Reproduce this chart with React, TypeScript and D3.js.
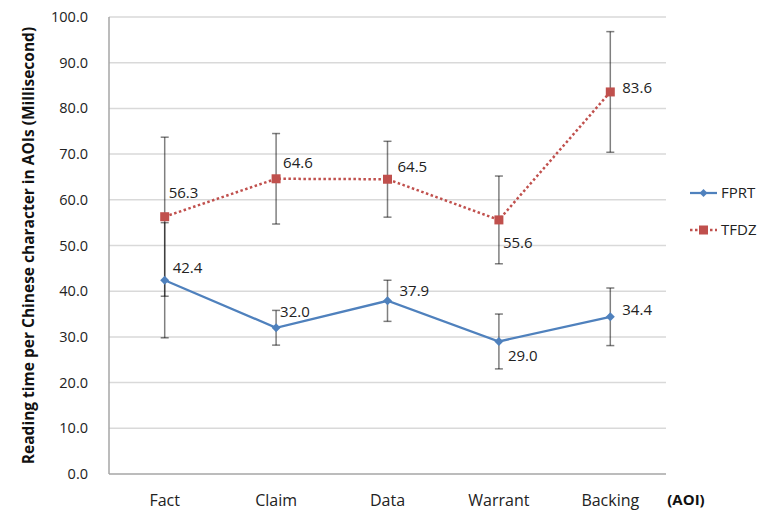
import React from "react";
import * as d3 from "d3";

const categories = ["Fact", "Claim", "Data", "Warrant", "Backing"];
const fprt = [42.4, 32.0, 37.9, 29.0, 34.4];
const fprtErr = [12.6, 3.8, 4.5, 6.0, 6.3];
const tfdz = [56.3, 64.6, 64.5, 55.6, 83.6];
const tfdzErr = [17.4, 9.9, 8.3, 9.6, 13.2];
const yTicks = [0, 10, 20, 30, 40, 50, 60, 70, 80, 90, 100];
const seriesNames = ["FPRT", "TFDZ"];

// label offsets (layout only)
const fprtLabelOff = [[8, -12], [4, -16], [12, -10], [9, 14], [12, -7]];
const tfdzLabelOff = [[4, -24], [7, -16], [10, -12], [4, 23], [12, -4]];

const W = 771;
const H = 511;
const margin = { left: 109, right: 105, top: 17, bottom: 37 };
const FONT = "'Open Sans', sans-serif";
const BLUE = "#4F81BD";
const RED = "#C0504D";

export default function App() {
  const x = d3
    .scaleBand()
    .domain(categories)
    .range([margin.left, W - margin.right])
    .padding(0);
  const y = d3.scaleLinear().domain([0, 100]).range([H - margin.bottom, margin.top]);
  const cx = (c: string) => (x(c) as number) + x.bandwidth() / 2;

  const line = d3
    .line<number>()
    .x((_, i) => cx(categories[i]))
    .y((d) => y(d));

  const errBars = (vals: number[], errs: number[], key: string) =>
    vals.map((v, i) => {
      const xc = cx(categories[i]);
      const y1 = y(v + errs[i]);
      const y2 = y(v - errs[i]);
      return (
        <g key={key + i} stroke="#000" strokeOpacity={0.5} strokeWidth={1.5}>
          <line x1={xc} x2={xc} y1={y1} y2={y2} />
          <line x1={xc - 4} x2={xc + 4} y1={y1} y2={y1} />
          <line x1={xc - 4} x2={xc + 4} y1={y2} y2={y2} />
        </g>
      );
    });

  const diamond = (xc: number, yc: number, s: number) =>
    `M${xc},${yc - s} L${xc + s},${yc} L${xc},${yc + s} L${xc - s},${yc} Z`;

  return (
    <svg width={W} height={H} style={{ position: "absolute", left: 0, top: 0, background: "#fff" }}>
      {/* gridlines */}
      {yTicks.map((t) => (
        <line
          key={"g" + t}
          x1={margin.left}
          x2={W - margin.right}
          y1={y(t)}
          y2={y(t)}
          stroke={t === 0 ? "#a6a6a6" : "#d9d9d9"}
          strokeWidth={1.5}
        />
      ))}
      <line x1={margin.left} x2={margin.left} y1={y(100)} y2={y(0)} stroke="#a6a6a6" strokeWidth={1.5} />

      {/* y tick labels */}
      {yTicks.map((t) => (
        <text
          key={"yl" + t}
          x={88}
          y={y(t)}
          dy="0.35em"
          textAnchor="end"
          fontFamily={FONT}
          fontSize={14.5}
          fill="#222"
        >
          {t.toFixed(1)}
        </text>
      ))}

      {/* y title */}
      <text
        transform={`translate(29,${(y(0) + y(100)) / 2}) rotate(-90)`}
        textAnchor="middle"
        dy="0.35em"
        fontFamily={FONT}
        fontSize={15.5}
        fontWeight="bold"
        fill="#111"
      >
        Reading time per Chinese character in AOIs (Millisecond)
      </text>

      {/* x labels */}
      {categories.map((c) => (
        <text
          key={"xl" + c}
          x={cx(c)}
          y={500}
          dy="0.35em"
          textAnchor="middle"
          fontFamily={FONT}
          fontSize={16}
          fill="#222"
        >
          {c}
        </text>
      ))}
      <text x={686} y={500} dy="0.35em" textAnchor="middle" fontFamily={FONT} fontSize={15} fontWeight="bold" fill="#111">
        (AOI)
      </text>

      {/* error bars */}
      {errBars(fprt, fprtErr, "ef")}
      {errBars(tfdz, tfdzErr, "et")}

      {/* lines */}
      <path d={line(fprt) || ""} fill="none" stroke={BLUE} strokeWidth={2.25} />
      <path d={line(tfdz) || ""} fill="none" stroke={RED} strokeWidth={2.5} strokeDasharray="2.5 2.5" />

      {/* markers */}
      {fprt.map((v, i) => (
        <path key={"mf" + i} d={diamond(cx(categories[i]), y(v), 4.5)} fill={BLUE} />
      ))}
      {tfdz.map((v, i) => (
        <rect key={"mt" + i} x={cx(categories[i]) - 4.5} y={y(v) - 4.5} width={9} height={9} fill={RED} />
      ))}

      {/* data labels */}
      {fprt.map((v, i) => (
        <text
          key={"lf" + i}
          x={cx(categories[i]) + fprtLabelOff[i][0]}
          y={y(v) + fprtLabelOff[i][1]}
          dy="0.35em"
          fontFamily={FONT}
          fontSize={15}
          fill="#222"
        >
          {v.toFixed(1)}
        </text>
      ))}
      {tfdz.map((v, i) => (
        <text
          key={"lt" + i}
          x={cx(categories[i]) + tfdzLabelOff[i][0]}
          y={y(v) + tfdzLabelOff[i][1]}
          dy="0.35em"
          fontFamily={FONT}
          fontSize={15}
          fill="#222"
        >
          {v.toFixed(1)}
        </text>
      ))}

      {/* legend */}
      {seriesNames.map((s, i) => {
        const ly = 193 + i * 37;
        const col = i === 0 ? BLUE : RED;
        return (
          <g key={"lg" + s}>
            <line
              x1={690}
              x2={717}
              y1={ly}
              y2={ly}
              stroke={col}
              strokeWidth={i === 0 ? 2.25 : 2.5}
              strokeDasharray={i === 0 ? undefined : "2.5 2.5"}
            />
            {i === 0 ? (
              <path d={diamond(703.5, ly, 4)} fill={col} />
            ) : (
              <rect x={699} y={ly - 4.5} width={9} height={9} fill={col} />
            )}
            <text x={721} y={ly} dy="0.35em" fontFamily={FONT} fontSize={15} fill="#222">
              {s}
            </text>
          </g>
        );
      })}
    </svg>
  );
}
